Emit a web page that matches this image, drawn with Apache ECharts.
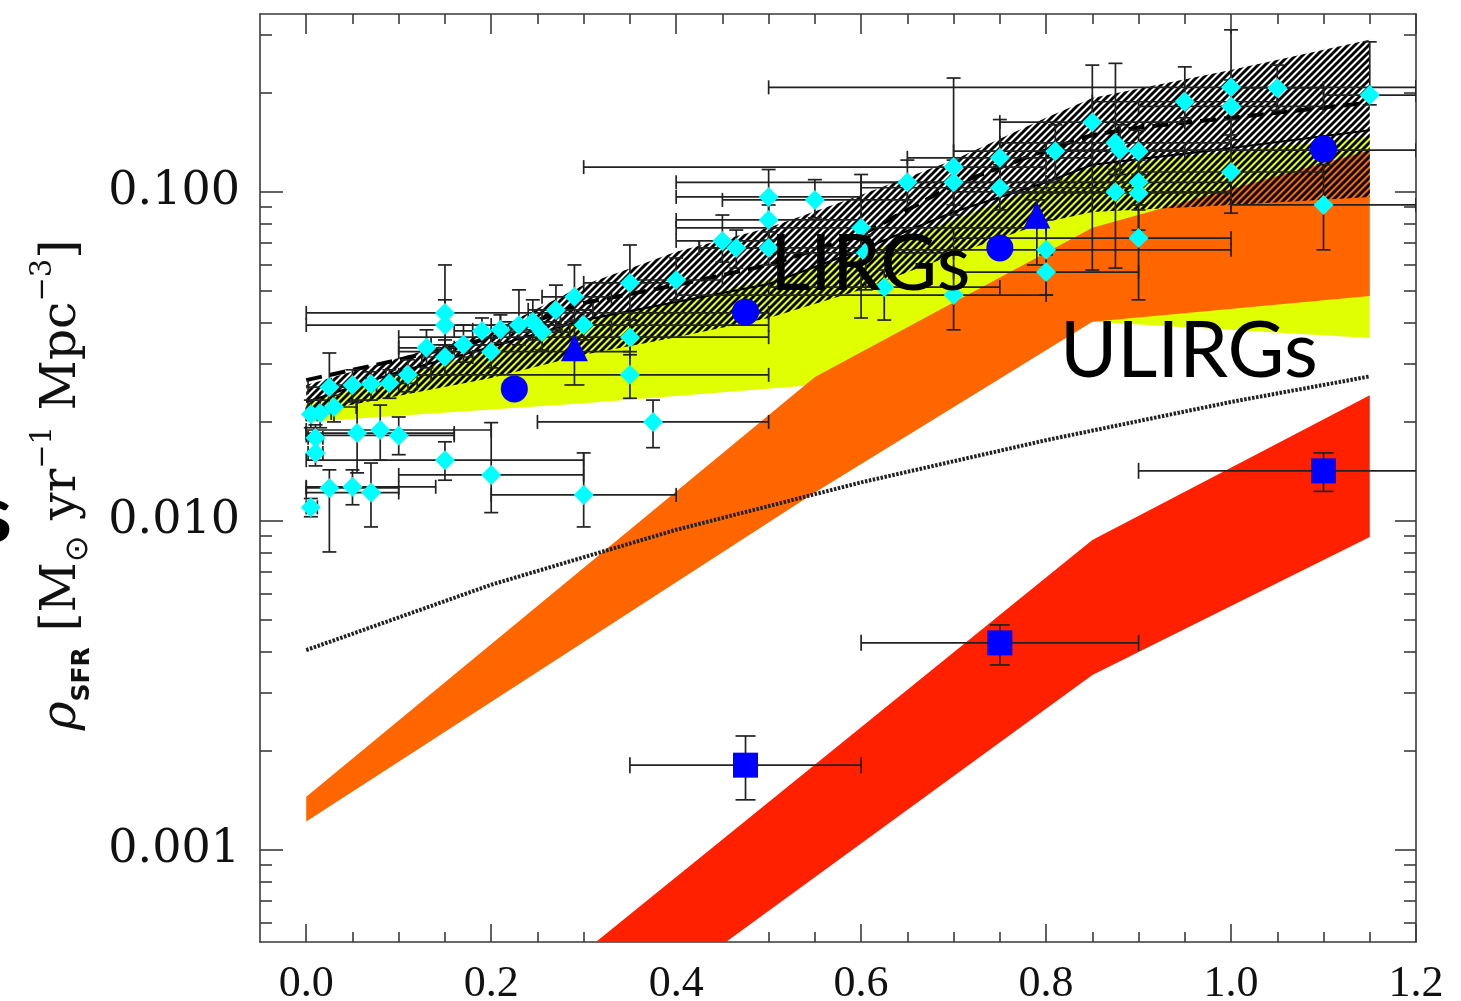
<!DOCTYPE html>
<html><head><meta charset="utf-8">
<script src="https://cdn.jsdelivr.net/npm/echarts@6/dist/echarts.min.js"></script>
<style>html,body{margin:0;padding:0;background:#fff}#c{width:1461px;height:1001px}</style>
</head><body><div id="c"></div>
<script>
// ---------------- data ----------------
const xMajor = [0, 0.2, 0.4, 0.6, 0.8, 1.0, 1.2];
const xMinor = [0.05,0.1,0.15,0.25,0.3,0.35,0.45,0.5,0.55,0.65,0.7,0.75,0.85,0.9,0.95,1.05,1.1,1.15];
const yMajor = [0.001, 0.01, 0.1];
const yMinor = [0.0006,0.0007,0.0008,0.0009,0.002,0.003,0.004,0.005,0.006,0.007,0.008,0.009,0.02,0.03,0.04,0.05,0.06,0.07,0.08,0.09,0.2,0.3];

// bands
const yellowZ      = [0, 0.2, 0.3, 0.5, 0.6, 0.7, 0.85, 1.0, 1.15];
const yellowUpper  = [0.0230, 0.0331, 0.0403, 0.0540, 0.0644, 0.0822, 0.119, 0.133, 0.147];
const yellowLowZ   = [0, 0.3, 0.55, 0.85, 1.15];
const yellowLower  = [0.0200, 0.0228, 0.0259, 0.0403, 0.0360];
const orangeZ      = [0, 0.55, 0.85, 1.15];
const orangeUpper  = [0.00145, 0.0274, 0.0778, 0.134];
const orangeLower  = [0.00122, 0.0122, 0.0403, 0.0483];
const redUpZ       = [0.30, 0.85, 1.15];
const redUpper     = [0.00049, 0.00875, 0.0241];
const redLowZ      = [0.44, 0.85, 1.15];
const redLower     = [0.000492, 0.00340, 0.00894];
const hatchZ       = [0, 0.1, 0.2, 0.3, 0.4, 0.5, 0.6, 0.7, 0.8, 0.85, 1.0, 1.15];
const hatchUpper   = [0.0259, 0.0313, 0.0375, 0.0521, 0.0658, 0.0778, 0.0979, 0.125, 0.168, 0.193, 0.235, 0.290];
const hatchLower   = [0.0212, 0.0240, 0.0272, 0.0320, 0.0362, 0.0414, 0.0504, 0.0644, 0.0811, 0.0869, 0.0913, 0.0966];

// lines
const solidZ   = [0, 0.1, 0.2, 0.3, 0.4, 0.5, 0.6, 0.7, 0.8, 0.85, 1.0, 1.15];
const solidRho = [0.0230, 0.0284, 0.0338, 0.0408, 0.0463, 0.0525, 0.0667, 0.0869, 0.107, 0.121, 0.136, 0.154];
const dashZ    = [0, 0.1, 0.2, 0.3, 0.4, 0.5, 0.6, 0.7, 0.8, 0.85, 0.9, 1.0, 1.15];
const dashRho  = [0.0268, 0.0309, 0.0360, 0.0460, 0.0521, 0.0600, 0.0740, 0.105, 0.134, 0.149, 0.157, 0.168, 0.187];
const dotZ     = [0, 0.2, 0.4, 0.6, 0.8, 1.0, 1.15];
const dotRho   = [0.00405, 0.0064, 0.0094, 0.0131, 0.0176, 0.0230, 0.0275];

// cyan diamonds
const cyanZ   = [0.005,0.01,0.01,0.005,0.015,0.025,0.03,0.05,0.07,0.09,0.11,0.13,0.15,0.15,0.15,0.17,0.19,0.20,0.21,0.23,0.245,0.255,0.27,0.29,0.30,0.35,0.35,0.35,0.40,0.055,0.08,0.10,0.15,0.20,0.30,0.375,0.025,0.05,0.07,0.45,0.465,0.50,0.50,0.50,0.55,0.60,0.605,0.625,0.65,0.70,0.70,0.70,0.75,0.75,0.80,0.80,0.81,0.85,0.875,0.88,0.90,0.875,0.90,0.90,0.90,0.95,1.00,1.00,1.00,1.05,1.10,1.15];
const cyanRho = [0.0110,0.0161,0.0179,0.0211,0.0213,0.0255,0.0222,0.0259,0.0261,0.0262,0.0278,0.0336,0.0315,0.0429,0.0394,0.0343,0.0378,0.0327,0.0381,0.0394,0.0403,0.0375,0.0438,0.0480,0.0394,0.0529,0.0362,0.0278,0.0540,0.0185,0.0189,0.0182,0.0153,0.0138,0.0120,0.0200,0.0126,0.0127,0.0122,0.0710,0.0676,0.0966,0.0822,0.0676,0.0946,0.0778,0.0653,0.0514,0.107,0.119,0.107,0.0486,0.127,0.103,0.0667,0.0571,0.133,0.163,0.141,0.134,0.133,0.100,0.107,0.0993,0.0724,0.188,0.208,0.182,0.115,0.207,0.0913,0.197];
const cyanZlo = [0.0,0.002,0.002,0.0,0.002,0.002,0.002,0.027,0.05,0.065,0.086,0.10,0.125,0.0,0.0,0.135,0.16,0.10,0.18,0.20,0.21,0.22,0.24,0.255,0.27,0.30,0.10,0.10,0.35,0.0,0.0,0.0,0.0,0.10,0.20,0.25,0.0,0.0,0.0,0.40,0.425,0.40,0.40,0.425,0.45,0.40,0.50,0.50,0.40,0.30,0.60,0.40,0.65,0.60,0.60,0.70,0.70,0.75,0.75,0.80,0.85,0.70,0.80,0.75,0.70,0.85,0.50,0.90,0.90,1.00,1.00,1.10];
const cyanZhi = [0.012,0.018,0.018,0.012,0.027,0.05,0.054,0.076,0.10,0.12,0.135,0.16,0.18,0.50,0.50,0.20,0.22,0.35,0.25,0.275,0.275,0.285,0.31,0.33,0.33,0.40,0.50,0.50,0.45,0.16,0.20,0.16,0.30,0.30,0.40,0.50,0.10,0.14,0.10,0.50,0.50,0.60,0.60,0.60,0.65,0.80,0.70,0.75,0.90,0.80,0.80,0.80,0.85,0.90,1.00,0.90,0.90,0.95,1.00,1.20,0.95,1.00,1.00,1.00,1.00,1.05,1.20,1.10,1.10,1.10,1.20,1.20];
const cyanRlo = [0.0103,0.0147,0.0164,0.0192,0.0192,0.0217,0.0200,0.0230,0.0233,0.0236,0.0247,0.0292,0.0278,0.0343,0.0331,0.0304,0.0343,0.0292,0.0348,0.0343,0.0355,0.0331,0.0381,0.0408,0.0355,0.0408,0.0327,0.0236,0.0470,0.0140,0.0153,0.0159,0.0133,0.0106,0.00959,0.0167,0.00805,0.0112,0.00959,0.0612,0.0587,0.0811,0.0714,0.0600,0.0834,0.0414,0.0504,0.0408,0.0946,0.0851,0.0913,0.0381,0.107,0.0882,0.0486,0.0486,0.109,0.0579,0.113,0.113,0.113,0.0587,0.0913,0.0766,0.0470,0.168,0.166,0.149,0.0862,0.177,0.0667,0.184];
const cyanRhi = [0.0117,0.0175,0.0196,0.0233,0.0233,0.0324,0.0241,0.0288,0.0284,0.0288,0.0309,0.0381,0.0355,0.0600,0.0470,0.0394,0.0414,0.0360,0.0423,0.0504,0.0470,0.0438,0.0521,0.0600,0.0438,0.0690,0.0408,0.0320,0.0630,0.0233,0.0225,0.0207,0.0174,0.0199,0.0161,0.0233,0.0143,0.0143,0.0150,0.0851,0.0766,0.117,0.0913,0.0756,0.109,0.113,0.0740,0.0579,0.125,0.222,0.125,0.0667,0.166,0.121,0.0822,0.0644,0.160,0.243,0.246,0.160,0.154,0.117,0.125,0.113,0.0882,0.240,0.311,0.219,0.144,0.243,0.121,0.286];

// blue symbols
const sqZ   = [0.475, 0.75, 1.10];
const sqRho = [0.00181, 0.00426, 0.0142];
const sqZlo = [0.35, 0.60, 0.90];
const sqZhi = [0.60, 0.90, 1.25];
const sqRlo = [0.00142, 0.00365, 0.0123];
const sqRhi = [0.00222, 0.00483, 0.0161];
const circZ   = [0.225, 0.475, 0.75, 1.10];
const circRho = [0.0252, 0.0432, 0.0676, 0.135];
const triZ   = [0.29, 0.79];
const triRho = [0.0336, 0.0851];
const triRlo = [0.0259, 0.0600];
const triRhi = [0.0403, 0.0946];

// ---------------- chart ----------------
const pairs = (xs, ys) => xs.map((x, i) => [x, ys[i]]);

function makeHatch() {
  const s = 7, c = document.createElement('canvas');
  c.width = s; c.height = s;
  const g = c.getContext('2d');
  g.strokeStyle = '#000'; g.lineWidth = 2.9; g.lineCap = 'square';
  g.beginPath();
  g.moveTo(0, s); g.lineTo(s, 0);
  g.moveTo(-s/2, s/2); g.lineTo(s/2, -s/2);
  g.moveTo(s/2, 1.5*s); g.lineTo(1.5*s, s/2);
  g.stroke();
  return c;
}
const hatchFill = { image: makeHatch(), repeat: 'repeat' };

function band(upZ, up, loZ, lo, fill, z) {
  return {
    type: 'custom', coordinateSystem: 'cartesian2d', clip: true, silent: true, z: z,
    data: [[0.5, 0.01]],
    renderItem: function (params, api) {
      const pts = upZ.map((x, i) => api.coord([x, up[i]]));
      for (let i = loZ.length - 1; i >= 0; i--) pts.push(api.coord([loZ[i], lo[i]]));
      return { type: 'polygon', shape: { points: pts }, style: { fill: fill, stroke: null } };
    }
  };
}

function errBars(zs, rs, zlo, zhi, rlo, rhi, capH, capV, z) {
  return {
    type: 'custom', coordinateSystem: 'cartesian2d', clip: true, silent: true, z: z,
    dimensions: ['z', 'r', 'zlo', 'zhi', 'rlo', 'rhi'],
    encode: { x: 0, y: 1 },
    data: zs.map((v, i) => [v, rs[i], zlo[i], zhi[i], rlo[i], rhi[i]]),
    renderItem: function (params, api) {
      const zc = api.value(0), r = api.value(1), a = api.value(2), b = api.value(3), lo = api.value(4), hi = api.value(5);
      const st = { stroke: '#222', lineWidth: 1.7, fill: null };
      const ch = [];
      const L = (p, q) => ({ type: 'line', shape: { x1: p[0], y1: p[1], x2: q[0], y2: q[1] }, style: st });
      if (b > a) {
        const p1 = api.coord([a, r]), p2 = api.coord([b, r]);
        ch.push(L(p1, p2));
        ch.push(L([p1[0], p1[1] - capH], [p1[0], p1[1] + capH]));
        ch.push(L([p2[0], p2[1] - capH], [p2[0], p2[1] + capH]));
      }
      if (hi > lo) {
        const p1 = api.coord([zc, lo]), p2 = api.coord([zc, hi]);
        ch.push(L(p1, p2));
        ch.push(L([p1[0] - capV, p1[1]], [p1[0] + capV, p1[1]]));
        ch.push(L([p2[0] - capV, p2[1]], [p2[0] + capV, p2[1]]));
      }
      return { type: 'group', children: ch };
    }
  };
}

function lineSeries(xs, ys, style, z) {
  return { type: 'line', data: pairs(xs, ys), symbol: 'none', silent: true, z: z, lineStyle: style, clip: true };
}

const frame = { color: '#3a3a3a', width: 1.6 };
function xAx(pos, vals, len, withLine, withLabel) {
  return {
    type: 'value', position: pos, min: -0.05, max: 1.2,
    axisLine: { show: withLine, onZero: false, lineStyle: frame },
    axisTick: { show: true, inside: true, length: len, customValues: vals, lineStyle: frame },
    axisLabel: withLabel ? { show: true, customValues: vals, margin: 20, formatter: v => v.toFixed(1),
      fontFamily: 'Liberation Serif', fontSize: 44, color: '#111' } : { show: false },
    splitLine: { show: false }
  };
}
function yAx(pos, vals, len, withLine, withLabel) {
  return {
    type: 'log', logBase: 10, position: pos, min: 0.000525, max: 0.3475,
    axisLine: { show: withLine, onZero: false, lineStyle: frame },
    axisTick: { show: true, inside: true, length: len, customValues: vals, lineStyle: frame },
    axisLabel: withLabel ? { show: true, customValues: vals, margin: 20, formatter: v => Number(v).toFixed(3),
      fontFamily: 'DejaVu Serif', fontSize: 46, color: '#111' } : { show: false },
    splitLine: { show: false }, minorTick: { show: false }
  };
}

const chart = echarts.init(document.getElementById('c'), null, { renderer: 'canvas' });
chart.setOption({
  animation: false,
  backgroundColor: '#fff',
  grid: { left: 260, top: 14, width: 1156, height: 928, containLabel: false, outerBoundsMode: 'none' },
  xAxis: [
    xAx('bottom', xMajor, 18, true, true),
    xAx('bottom', xMinor, 10, false, false),
    xAx('top', xMajor, 20, true, false),
    xAx('top', xMinor, 10, false, false)
  ],
  yAxis: [
    yAx('left', yMajor, 23, true, true),
    yAx('left', yMinor, 12, false, false),
    yAx('right', yMajor, 21, true, false),
    yAx('right', yMinor, 12, false, false)
  ],
  series: [
    band(yellowZ, yellowUpper, yellowLowZ, yellowLower, '#E0FF00', 1),
    band(orangeZ, orangeUpper, orangeZ, orangeLower, '#FF6600', 2),
    band(redUpZ, redUpper, redLowZ, redLower, '#FF2000', 3),
    band(hatchZ, hatchUpper, hatchZ, hatchLower, hatchFill, 4),
    lineSeries(dotZ, dotRho, { color: '#222', width: 4, type: [2.5, 1.5] }, 5),
    lineSeries(solidZ, solidRho, { color: '#000', width: 2.2 }, 5),
    lineSeries(dashZ, dashRho, { color: '#000', width: 4, type: [16, 8] }, 5),
    errBars(cyanZ, cyanRho, cyanZlo, cyanZhi, cyanRlo, cyanRhi, 7, 7, 6),
    errBars(sqZ, sqRho, sqZlo, sqZhi, sqRlo, sqRhi, 8, 10, 6),
    errBars(triZ, triRho, triZ, triZ, triRlo, triRhi, 7, 10, 6),
    { type: 'scatter', data: pairs(cyanZ, cyanRho), symbol: 'diamond', symbolSize: 20, z: 7, silent: true,
      itemStyle: { color: '#00FFFF', opacity: 1 } },
    { type: 'scatter', data: pairs(circZ, circRho), symbol: 'circle', symbolSize: 27, z: 8, silent: true,
      itemStyle: { color: '#0000FF', opacity: 1 } },
    { type: 'scatter', data: pairs(triZ, triRho), symbol: 'triangle', symbolSize: 27, z: 8, silent: true,
      itemStyle: { color: '#0000FF', opacity: 1 } },
    { type: 'scatter', data: pairs(sqZ, sqRho), symbol: 'rect', symbolSize: 25, z: 8, silent: true,
      itemStyle: { color: '#0000FF', opacity: 1 } }
  ],
  graphic: [
    { type: 'text', x: 770, y: 265, z: 100, silent: true,
      style: { text: 'LIRGs', fontFamily: 'Lato', fontSize: 78, fill: '#000', align: 'left', verticalAlign: 'middle' } },
    { type: 'text', x: 1060, y: 352, z: 100, silent: true,
      style: { text: 'ULIRGs', fontFamily: 'Lato', fontSize: 78, fill: '#000', align: 'left', verticalAlign: 'middle' } },
    { type: 'text', x: 12, y: 516, z: 100, silent: true,
      style: { text: 's', fontFamily: 'Lato', fontWeight: 'bold', fontSize: 80, fill: '#000', align: 'right', verticalAlign: 'middle' } },
    { type: 'text', x: 62, y: 485, rotation: Math.PI / 2, z: 100, silent: true,
      style: {
        text: '{rho|ρ}{sub|SFR}{t| [M}{sun|⊙}{t| yr}{sup|−1}{t| Mpc}{sup|−3}{t|]}',
        align: 'center', verticalAlign: 'middle',
        rich: {
          t:   { fontFamily: 'DejaVu Serif', fontSize: 49, fill: '#111', lineHeight: 66, verticalAlign: 'middle' },
          rho: { fontFamily: 'DejaVu Serif', fontStyle: 'italic', fontSize: 49, fill: '#111', lineHeight: 66, verticalAlign: 'middle' },
          sub: { fontFamily: 'DejaVu Sans', fontWeight: 'bold', fontSize: 25, fill: '#111', lineHeight: 30, verticalAlign: 'bottom' },
          sun: { fontFamily: 'DejaVu Sans', fontSize: 32, fill: '#111', lineHeight: 40, verticalAlign: 'bottom' },
          sup: { fontFamily: 'DejaVu Serif', fontSize: 29, fill: '#111', lineHeight: 34, verticalAlign: 'top' }
        }
      } }
  ]
});
</script></body></html>
